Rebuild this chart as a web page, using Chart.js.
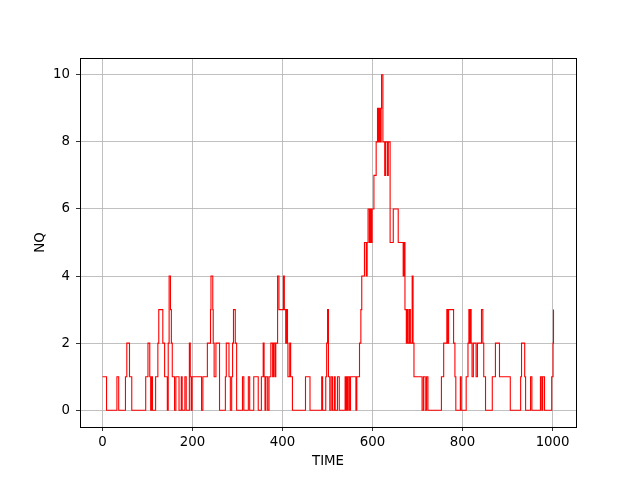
<!DOCTYPE html>
<html>
<head>
<meta charset="utf-8">
<script src="https://cdn.jsdelivr.net/npm/chart.js@4/dist/chart.umd.min.js"></script>
<style>
  html, body { margin: 0; padding: 0; background: #fff; }
  #wrap { width: 640px; height: 480px; }
</style>
</head>
<body>
<div id="wrap"><canvas id="c" width="640" height="480"></canvas></div>
<script>
// Event times (TIME) and the queue length NQ holding from that time on
const times = [0, 9, 32, 36, 51, 54, 60, 65, 96, 101, 105, 107, 109, 111, 118, 123, 125, 134, 138, 144,
  146, 148, 151, 153, 155, 160, 163, 170, 175, 177, 183, 186, 193, 195, 197, 199, 220, 223, 233, 240,
  241, 245, 246, 248, 252, 260, 273, 275, 281, 284, 287, 289, 291, 295, 298, 311, 314, 324, 327, 336,
  346, 353, 357, 359, 361, 363, 367, 370, 374, 378, 380, 383, 385, 389, 392, 402, 404, 407, 409, 411,
  412, 416, 418, 422, 451, 461, 487, 489, 496, 498, 500, 502, 505, 508, 511, 515, 517, 522, 526, 539,
  541, 543, 544, 546, 549, 551, 563, 565, 571, 574, 576, 582, 586, 588, 590, 593, 595, 597, 599, 603,
  608, 611, 613, 615, 617, 619, 620, 623, 627, 629, 633, 635, 639, 646, 657, 668, 670, 672, 675, 677,
  679, 682, 684, 688, 690, 692, 710, 713, 717, 720, 723, 753, 758, 765, 767, 769, 780, 783, 785, 795,
  797, 808, 812, 814, 815, 817, 819, 821, 824, 830, 833, 842, 845, 847, 851, 866, 873, 882, 906, 929,
  931, 938, 940, 951, 954, 973, 976, 978, 982, 998, 1001, 1002];
const nq = [1, 0, 1, 0, 1, 2, 1, 0, 1, 2, 1, 0, 1, 0, 1, 2, 3, 2, 1, 0,
  2, 4, 3, 2, 1, 0, 1, 0, 1, 0, 1, 0, 2, 1, 0, 1, 0, 1, 2, 3,
  4, 3, 2, 1, 2, 0, 1, 2, 1, 0, 1, 2, 3, 2, 0, 1, 0, 1, 0, 1,
  0, 1, 2, 1, 0, 1, 0, 1, 2, 1, 2, 1, 2, 4, 3, 4, 3, 2, 3, 2,
  1, 2, 1, 0, 1, 0, 1, 0, 1, 2, 3, 1, 0, 1, 0, 1, 0, 1, 0, 1,
  0, 1, 0, 1, 0, 1, 0, 1, 2, 3, 4, 5, 4, 5, 6, 5, 6, 5, 6, 7,
  8, 9, 8, 9, 8, 9, 10, 8, 7, 8, 7, 8, 5, 6, 5, 4, 5, 3, 2, 3,
  2, 3, 2, 4, 2, 1, 0, 1, 0, 1, 0, 1, 2, 3, 2, 3, 2, 1, 0, 1,
  0, 1, 2, 3, 2, 3, 2, 1, 2, 1, 2, 3, 2, 1, 0, 1, 2, 1, 0, 1,
  2, 1, 0, 1, 0, 1, 0, 1, 0, 1, 2, 3];
const xTicks = [0, 200, 400, 600, 800, 1000];
const yTicks = [0, 2, 4, 6, 8, 10];

const points = times.map((t, i) => ({ x: t, y: nq[i] }));
const FONT = { family: 'DejaVu Sans', size: 13.33 };

const boxPlugin = {
  id: 'box',
  afterDatasetsDraw(chart) {
    const { ctx, chartArea: a } = chart;
    ctx.save();
    ctx.strokeStyle = '#000';
    ctx.lineWidth = 1;
    ctx.strokeRect(Math.round(a.left) + 0.5, Math.round(a.top) + 0.5,
      Math.round(a.right - a.left), Math.round(a.bottom - a.top));
    ctx.restore();
  }
};

new Chart(document.getElementById('c'), {
  type: 'line',
  data: {
    datasets: [{
      data: points,
      stepped: true,
      borderColor: '#ff0000',
      borderWidth: 1.1,
      pointRadius: 0,
      fill: false,
      tension: 0
    }]
  },
  options: {
    responsive: false,
    animation: false,
    devicePixelRatio: 1,
    layout: { padding: { left: 0, top: 58, right: 64, bottom: 0 } },
    plugins: { legend: { display: false }, tooltip: { enabled: false } },
    scales: {
      x: {
        type: 'linear',
        min: -50, max: 1052,
        afterBuildTicks: s => { s.ticks = xTicks.map(v => ({ value: v })); },
        afterFit: s => { s.height = 53; },
        grid: { color: '#b0b0b0', lineWidth: 0.8, tickColor: '#000', tickLength: 4, drawTicks: true },
        border: { display: false },
        ticks: { color: '#000', font: FONT, padding: 4, maxRotation: 0, autoSkip: false,
                 callback: v => String(v) },
        title: { display: true, text: 'TIME', color: '#000', font: FONT, padding: { top: 0, bottom: 10 } }
      },
      y: {
        type: 'linear',
        min: -0.5, max: 10.5,
        afterBuildTicks: s => { s.ticks = yTicks.map(v => ({ value: v })); },
        afterFit: s => { s.width = 80; },
        grid: { color: '#b0b0b0', lineWidth: 0.8, tickColor: '#000', tickLength: 4, drawTicks: true },
        border: { display: false },
        ticks: { color: '#000', font: FONT, padding: 6, autoSkip: false,
                 callback: v => String(v) },
        title: { display: true, text: 'NQ', color: '#000', font: FONT, padding: { top: 33, bottom: 0 } }
      }
    }
  },
  plugins: [boxPlugin]
});
</script>
</body>
</html>
